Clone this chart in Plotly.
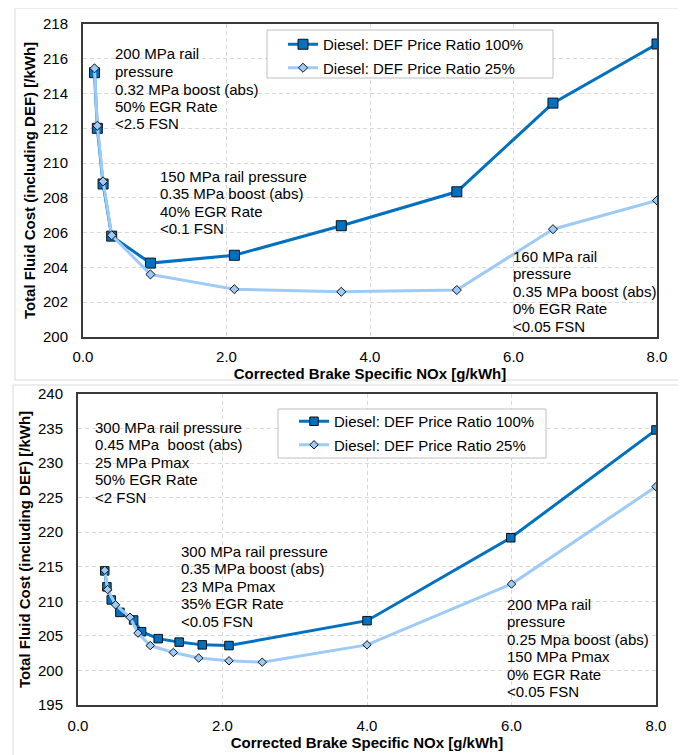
import plotly.graph_objects as go

# the page body has an 8px margin, so the figure is drawn 8px in from the window corner
OFF = 8
W, H = 686 - OFF, 755 - OFF

# ---- data ----
# top chart
top_nox = [0.16, 0.20, 0.28, 0.40, 0.94, 2.11, 3.60, 5.21, 6.55, 8.00]
top_cost_100 = [215.2, 212.0, 208.8, 205.8, 204.25, 204.7, 206.4, 208.35, 213.45, 216.85]
top_cost_25 = [215.45, 212.15, 208.95, 205.85, 203.6, 202.75, 202.6, 202.7, 206.2, 207.85]

# bottom chart
bot_nox_100 = [0.37, 0.40, 0.46, 0.58, 0.77, 0.88, 1.11, 1.40, 1.72, 2.09, 4.00, 5.99, 8.00]
bot_cost_100 = [214.4, 212.1, 210.2, 208.4, 207.3, 205.6, 204.6, 204.1, 203.7, 203.6, 207.2, 219.2, 234.8]
bot_nox_25 = [0.37, 0.41, 0.52, 0.72, 0.83, 1.00, 1.32, 1.67, 2.09, 2.55, 4.00, 6.00, 8.00]
bot_cost_25 = [214.5, 211.7, 209.5, 207.7, 205.4, 203.6, 202.6, 201.8, 201.4, 201.2, 203.7, 212.5, 226.6]

names = ['Diesel: DEF Price Ratio 100%', 'Diesel: DEF Price Ratio 25%']
x_title = 'Corrected Brake Specific NOx [g/kWh]'
y_title = 'Total Fluid Cost (including DEF) [/kWh]'

top_notes = [
    (114, 49, ['200 MPa rail', 'pressure', '0.32 MPa boost (abs)', '50% EGR Rate', '&lt;2.5 FSN']),
    (159, 171, ['150 MPa rail pressure', '0.35 MPa boost (abs)', '40% EGR Rate', '&lt;0.1 FSN']),
    (512, 251, ['160 MPa rail', 'pressure', '0.35 MPa boost (abs)', '0% EGR Rate', '&lt;0.05 FSN']),
]
bot_notes = [
    (94, 422, ['300 MPa rail pressure', '0.45 MPa  boost (abs)', '25 MPa Pmax', '50% EGR Rate', '&lt;2 FSN']),
    (180, 546, ['300 MPa rail pressure', '0.35 MPa boost (abs)', '23 MPa Pmax', '35% EGR Rate', '&lt;0.05 FSN']),
    (506, 599, ['200 MPa rail', 'pressure', '0.25 Mpa boost (abs)', '150 MPa Pmax', '0% EGR Rate', '&lt;0.05 FSN']),
]

dark = '#0070C0'
light = '#9DCBF5'
FONT = 'Liberation Sans, Arial, sans-serif'


def px(x):  # window pixel -> paper x
    return (x - OFF) / W


def py(y):  # window pixel -> paper y
    return 1 - (y - OFF) / H


fig = go.Figure()

# top chart traces
fig.add_trace(go.Scatter(x=top_nox, y=top_cost_100, name=names[0], mode='lines+markers',
                         line=dict(color=dark, width=3),
                         marker=dict(symbol='square', size=10, color=dark, line=dict(color='#111111', width=1)),
                         xaxis='x', yaxis='y', legend='legend', legendgroup='a'))
fig.add_trace(go.Scatter(x=top_nox, y=top_cost_25, name=names[1], mode='lines+markers',
                         line=dict(color=light, width=3),
                         marker=dict(symbol='diamond', size=7, color=light, line=dict(color='#111111', width=1)),
                         xaxis='x', yaxis='y', legend='legend', legendgroup='b'))
# bottom chart traces
fig.add_trace(go.Scatter(x=bot_nox_100, y=bot_cost_100, name=names[0], mode='lines+markers',
                         line=dict(color=dark, width=3),
                         marker=dict(symbol='square', size=8.5, color=dark, line=dict(color='#111111', width=1)),
                         xaxis='x2', yaxis='y2', legend='legend2', legendgroup='c'))
fig.add_trace(go.Scatter(x=bot_nox_25, y=bot_cost_25, name=names[1], mode='lines+markers',
                         line=dict(color=light, width=3),
                         marker=dict(symbol='diamond', size=6.5, color=light, line=dict(color='#111111', width=1)),
                         xaxis='x2', yaxis='y2', legend='legend2', legendgroup='d'))

axis_common = dict(showgrid=True, gridcolor='#d9d9d9', griddash='4px,3px', gridwidth=1,
                   showline=True, linecolor='#3a3a3a', linewidth=2, mirror=True, zeroline=False,
                   ticks='outside', tickcolor='rgba(0,0,0,0)', tickfont=dict(size=15, color='black'))

fig.update_layout(
    width=W, height=H,
    margin=dict(l=0, r=0, t=0, b=0, autoexpand=False),
    paper_bgcolor='white', plot_bgcolor='white',
    font=dict(family=FONT, size=15, color='black'),
    xaxis=dict(domain=[px(83), px(657)], range=[0, 8], dtick=2, tickformat='.1f', ticklen=5, anchor='y',
               title=dict(text='<b>%s</b>' % x_title, standoff=0, font=dict(size=15)), **axis_common),
    yaxis=dict(domain=[py(337), py(24)], range=[200, 218], dtick=2, ticklen=10, anchor='x',
               title=dict(text='<b>%s</b>' % y_title, standoff=4, font=dict(size=15)), **axis_common),
    xaxis2=dict(domain=[px(78), px(656)], range=[0, 8], dtick=2, tickformat='.1f', ticklen=6, anchor='y2',
                title=dict(text='<b>%s</b>' % x_title, standoff=2, font=dict(size=15)), **axis_common),
    yaxis2=dict(domain=[py(705), py(394)], range=[195, 240], dtick=5, ticklen=10, anchor='x2',
                title=dict(text='<b>%s</b>' % y_title, standoff=4, font=dict(size=15)), **axis_common),
    legend=dict(x=px(283), y=py(28), xanchor='left', yanchor='top', bgcolor='rgba(0,0,0,0)',
                borderwidth=0, traceorder='grouped', tracegroupgap=1, font=dict(size=15)),
    legend2=dict(x=px(294), y=py(405), xanchor='left', yanchor='top', bgcolor='rgba(0,0,0,0)',
                 borderwidth=0, traceorder='grouped', tracegroupgap=1, font=dict(size=15)),
)

# outer frames of the two charts and the legend boxes
for x0, y0, x1, y1, col in [(15, 8, 682, 380, '#d9d9d9'), (13, 385, 684, 760, '#d9d9d9'),
                            (267, 30, 553, 78, '#bfbfbf'), (278, 409, 546, 458, '#bfbfbf')]:
    fig.add_shape(type='rect', xref='paper', yref='paper', x0=px(x0), x1=px(x1), y0=py(y0), y1=py(y1),
                  line=dict(color=col, width=1), fillcolor='white' if col == '#bfbfbf' else 'rgba(0,0,0,0)',
                  layer='above' if col == '#bfbfbf' else 'below')

# text notes, one annotation per line
pitch = 17.5
for x0, y0, lines in top_notes + bot_notes:
    for i, line in enumerate(lines):
        fig.add_annotation(text=line, xref='paper', yref='paper', x=px(x0 - 1), y=py(y0 + 5 + i * pitch),
                           xanchor='left', yanchor='middle', showarrow=False, align='left',
                           font=dict(size=15, color='black'))

fig.write_html("out.html")
